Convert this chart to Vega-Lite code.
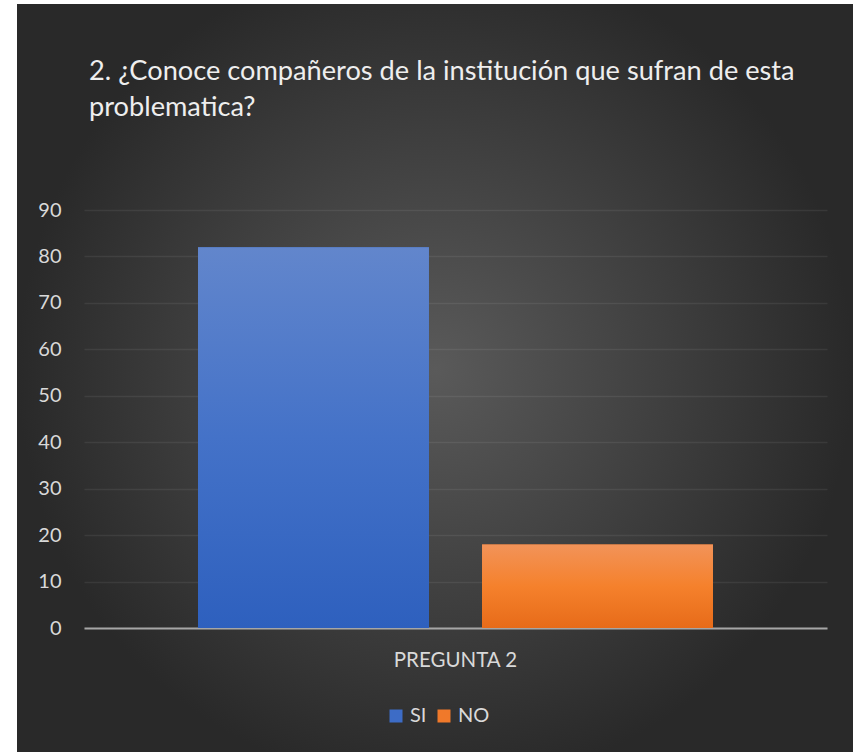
{
  "$schema": "https://vega.github.io/schema/vega-lite/v6.json",
  "width": 836,
  "height": 748,
  "autosize": {"type": "none"},
  "padding": {"left": 17, "top": 4, "right": 0, "bottom": 0},
  "background": "#ffffff",
  "config": {
    "font": "Lato",
    "view": {
      "stroke": null,
      "fill": {
        "gradient": "radial",
        "x1": 0.5, "y1": 0.49, "r1": 0,
        "x2": 0.5, "y2": 0.49, "r2": 0.5,
        "stops": [
          {"offset": 0, "color": "#5a5a5a"},
          {"offset": 1, "color": "#292929"}
        ]
      }
    }
  },
  "title": {
    "text": ["2. ¿Conoce compañeros de la institución que sufran de esta", "problematica?"],
    "orient": "top",
    "anchor": "start",
    "frame": "group",
    "offset": -118,
    "dx": 72,
    "font": "Lato",
    "fontSize": 27.2,
    "fontWeight": "normal",
    "color": "#eeeeee",
    "lineHeight": 35.5
  },
  "data": {
    "values": [
      {"pregunta": "PREGUNTA 2", "respuesta": "SI", "valor": 82},
      {"pregunta": "PREGUNTA 2", "respuesta": "NO", "valor": 18}
    ]
  },
  "encoding": {
    "x": {
      "field": "pregunta",
      "type": "nominal",
      "scale": {"range": [67, 810], "paddingInner": 0, "paddingOuter": 0.2214},
      "axis": {
        "title": null,
        "labelAngle": 0,
        "ticks": false,
        "tickSize": 0,
        "domain": true,
        "domainColor": "#a6a6a6",
        "domainWidth": 2,
        "offset": -124,
        "labelPadding": 22,
        "labelFont": "Lato",
        "labelFontSize": 20.5,
        "labelColor": "#d9d9d9",
        "grid": false
      }
    },
    "xOffset": {
      "field": "respuesta",
      "type": "nominal",
      "sort": ["SI", "NO"],
      "scale": {"paddingInner": 0.187, "paddingOuter": 0}
    },
    "y": {
      "field": "valor",
      "type": "quantitative",
      "scale": {"domain": [0, 90], "range": [624, 206], "nice": false},
      "axis": {
        "title": null,
        "values": [0, 10, 20, 30, 40, 50, 60, 70, 80, 90],
        "domain": false,
        "ticks": false,
        "tickSize": 0,
        "offset": -67,
        "labelPadding": 23,
        "labelFont": "Lato",
        "labelFontSize": 20,
        "labelColor": "#d9d9d9",
        "grid": true,
        "gridColor": "#ffffff",
        "gridOpacity": 0.07,
        "gridWidth": 1.5
      }
    }
  },
  "layer": [
    {
      "mark": {"type": "bar"},
      "encoding": {
        "color": {
          "field": "respuesta",
          "type": "nominal",
          "sort": ["SI", "NO"],
          "scale": {"domain": ["SI", "NO"], "range": ["#3d6cc6", "#f0792a"]},
          "legend": {
            "title": null,
            "orient": "none",
            "legendX": 369,
            "legendY": 702,
            "direction": "horizontal",
            "padding": 0,
            "symbolType": "square",
            "symbolSize": 169,
            "symbolStrokeWidth": 0,
            "labelFont": "Lato",
            "labelFontSize": 20,
            "labelColor": "#d9d9d9",
            "labelOffset": 4,
            "columnPadding": 7
          }
        }
      }
    },
    {
      "mark": {"type": "bar"},
      "encoding": {
        "fill": {
          "condition": {
            "test": "datum.respuesta === 'SI'",
            "value": {
              "gradient": "linear", "x1": 0, "y1": 0, "x2": 0, "y2": 1,
              "stops": [
                {"offset": 0, "color": "#6286cc"},
                {"offset": 0.5, "color": "#4472c8"},
                {"offset": 1, "color": "#2e60be"}
              ]
            }
          },
          "value": {
            "gradient": "linear", "x1": 0, "y1": 0, "x2": 0, "y2": 1,
            "stops": [
              {"offset": 0, "color": "#f29359"},
              {"offset": 0.5, "color": "#f5812c"},
              {"offset": 1, "color": "#e76b19"}
            ]
          }
        }
      }
    }
  ]
}
